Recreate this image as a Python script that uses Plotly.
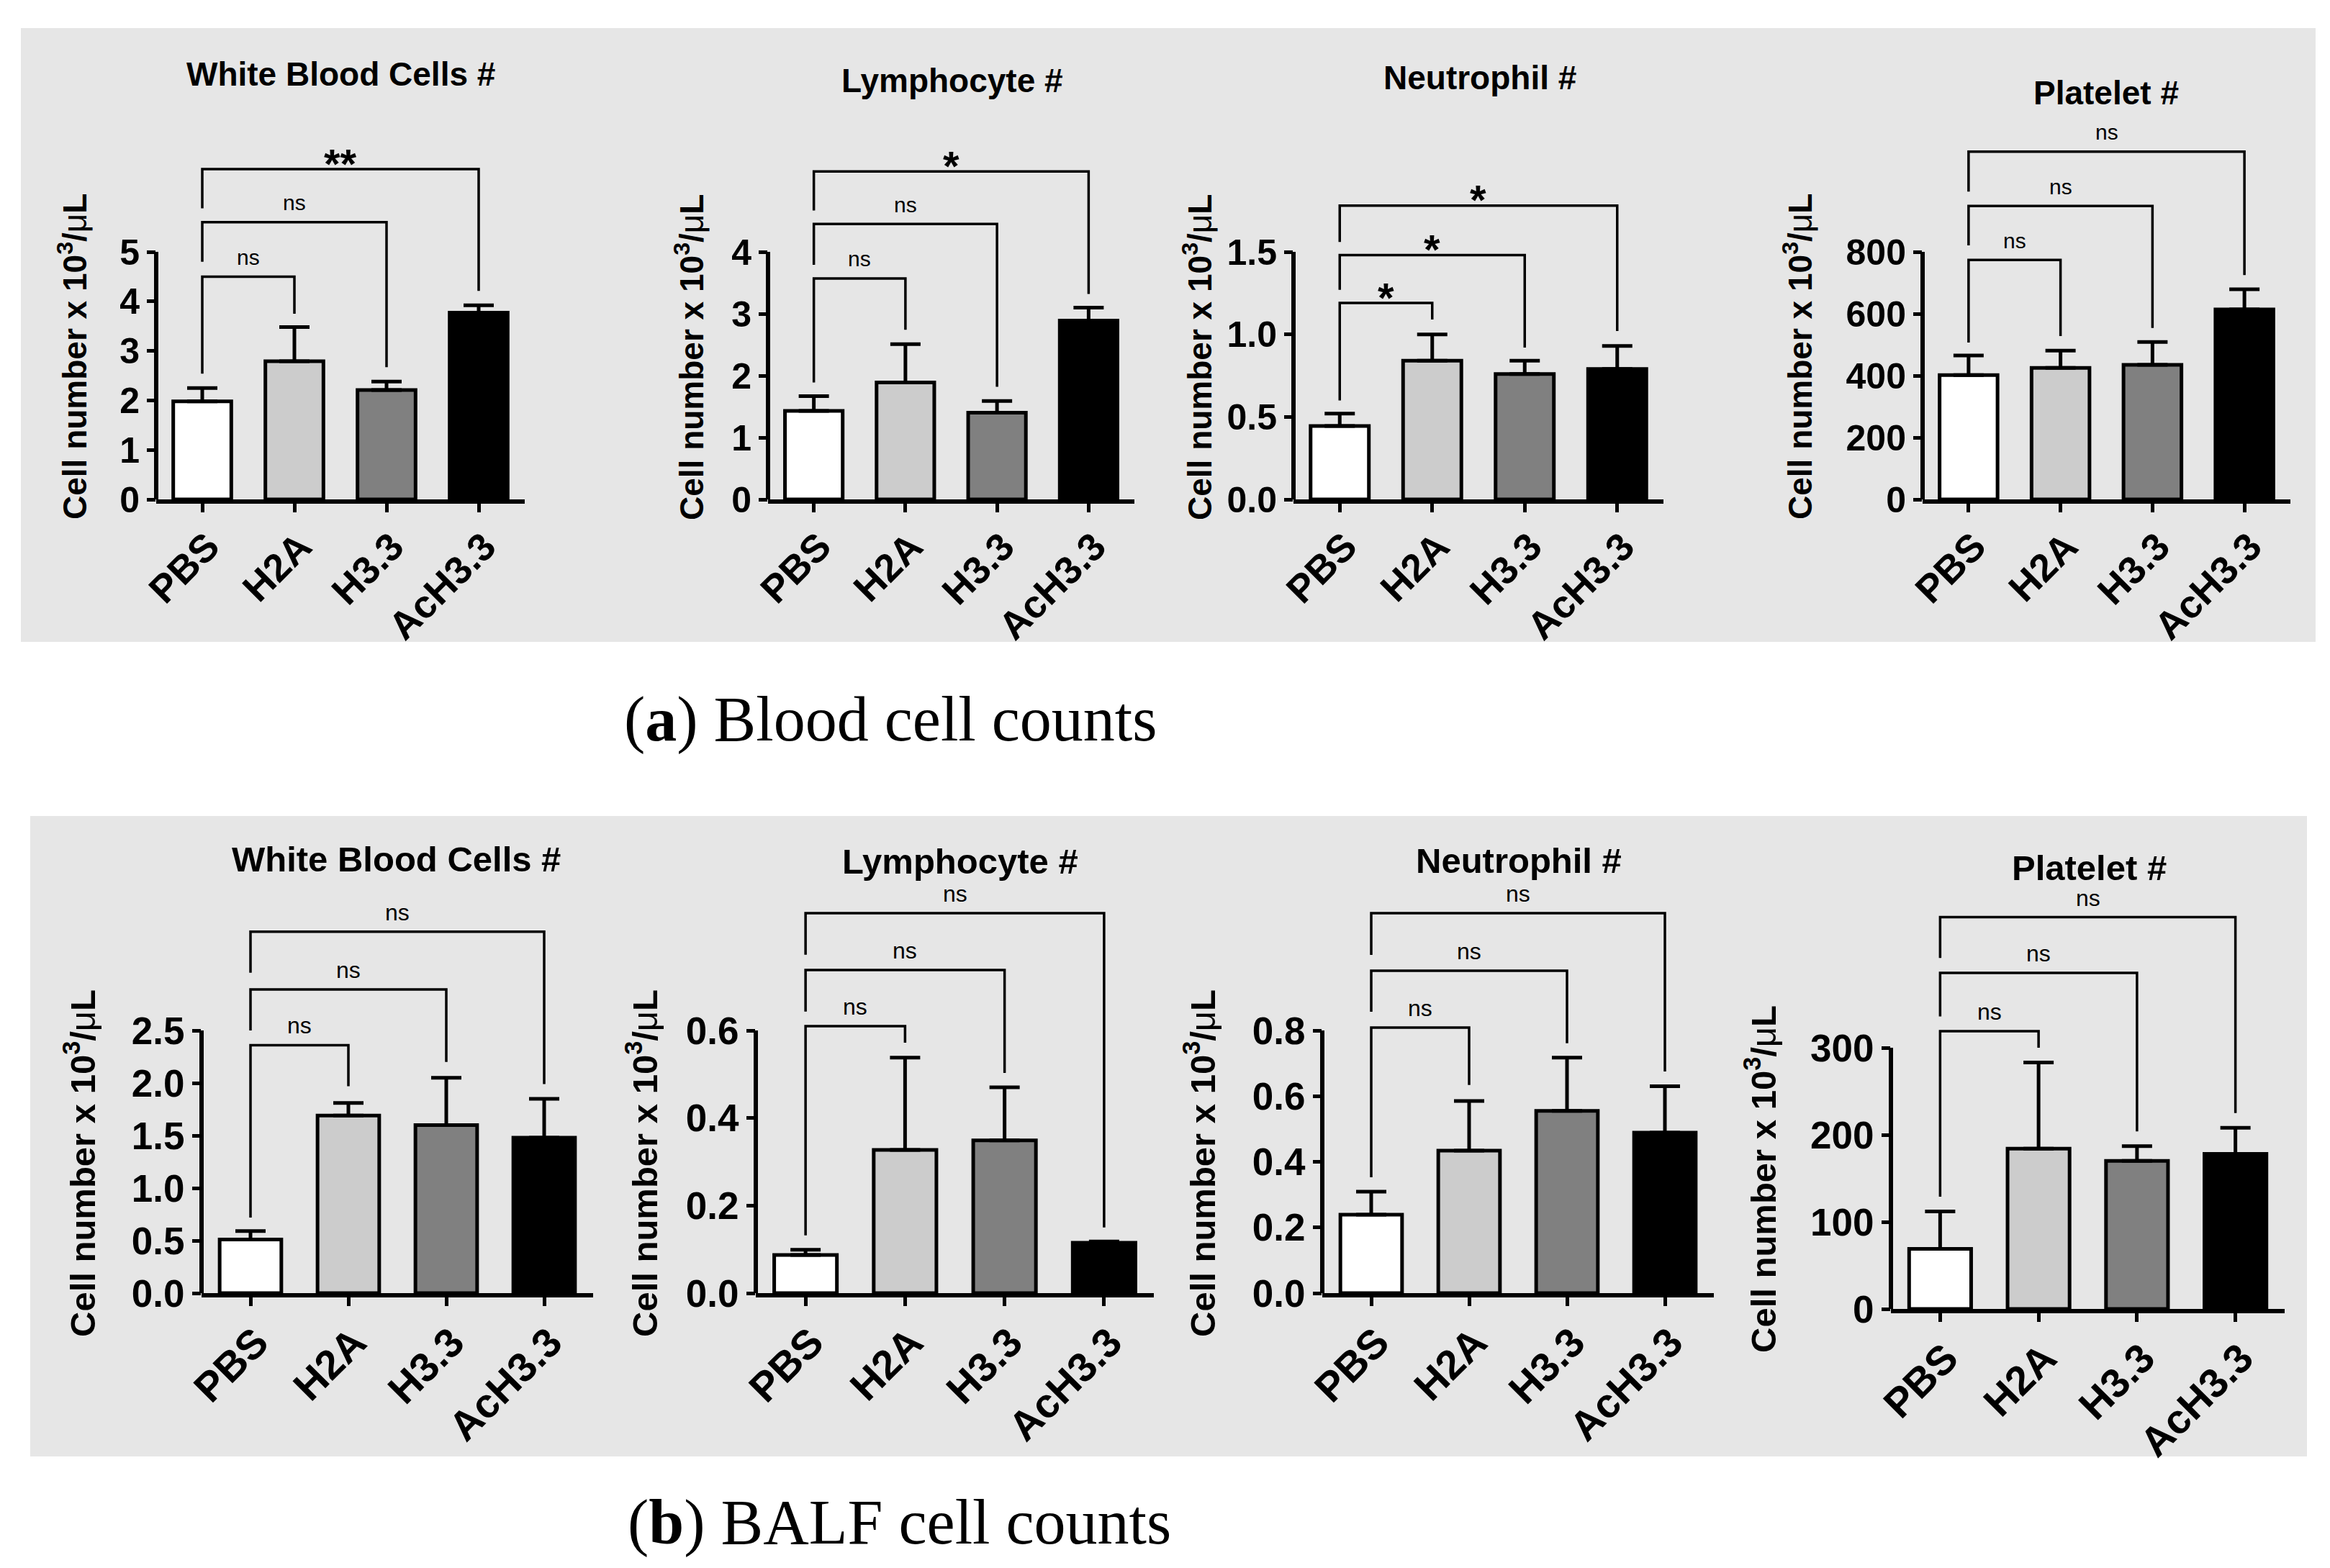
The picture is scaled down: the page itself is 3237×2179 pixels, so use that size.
import plotly.graph_objects as go

W, H = 3237, 2179

# ---------------- data ----------------
groups = ["PBS", "H2A", "H3.3", "AcH3.3"]
bar_colors = ["#ffffff", "#cccccc", "#808080", "#000000"]
titles = ["White Blood Cells #", "Lymphocyte #", "Neutrophil #", "Platelet #"]

# (a) Blood cell counts
blood_wbc_mean = [1.98, 2.79, 2.21, 3.77]
blood_wbc_sem = [0.27, 0.69, 0.17, 0.15]
blood_lym_mean = [1.43, 1.89, 1.40, 2.89]
blood_lym_sem = [0.24, 0.62, 0.19, 0.21]
blood_neu_mean = [0.445, 0.84, 0.76, 0.79]
blood_neu_sem = [0.075, 0.16, 0.08, 0.14]
blood_plt_mean = [402, 425, 435, 614]
blood_plt_sem = [63, 56, 74, 65]

# (b) BALF cell counts
balf_wbc_mean = [0.51, 1.69, 1.60, 1.48]
balf_wbc_sem = [0.08, 0.12, 0.45, 0.37]
balf_lym_mean = [0.087, 0.327, 0.349, 0.115]
balf_lym_sem = [0.012, 0.211, 0.121, 0.003]
balf_neu_mean = [0.239, 0.434, 0.555, 0.489]
balf_neu_sem = [0.070, 0.151, 0.162, 0.141]
balf_plt_mean = [69, 184, 170, 178]
balf_plt_sem = [43, 99, 17, 30]

# significance brackets: PBS vs H2A, H3.3, AcH3.3
blood_wbc_br = dict(top=[4.5, 5.6, 6.67], left=[2.54, 4.8, 5.88], right=[3.75, 2.67, 4.21], sig=["ns", "ns", "**"])
blood_lym_br = dict(top=[3.57, 4.45, 5.3], left=[1.89, 3.79, 4.67], right=[2.74, 1.82, 3.32], sig=["ns", "ns", "*"])
blood_neu_br = dict(top=[1.19, 1.48, 1.78], left=[0.60, 1.27, 1.56], right=[1.09, 0.92, 1.02], sig=["*", "*", "*"])
blood_plt_br = dict(top=[774, 948, 1124], left=[507, 821, 995], right=[528, 554, 725], sig=["ns", "ns", "ns"])
balf_wbc_br = dict(top=[2.36, 2.89, 3.44], left=[0.72, 2.5, 3.05], right=[1.97, 2.2, 1.99], sig=["ns", "ns", "ns"])
balf_lym_br = dict(top=[0.61, 0.738, 0.868], left=[0.132, 0.643, 0.773], right=[0.572, 0.503, 0.15], sig=["ns", "ns", "ns"])
balf_neu_br = dict(top=[0.809, 0.982, 1.157], left=[0.353, 0.857, 1.03], right=[0.634, 0.761, 0.675], sig=["ns", "ns", "ns"])
balf_plt_br = dict(top=[319, 386, 450], left=[129, 336, 403], right=[300, 204, 225], sig=["ns", "ns", "ns"])

# y tick values / labels
ticks_blood_wbc = [0, 1, 2, 3, 4, 5]
ticks_blood_lym = [0, 1, 2, 3, 4]
ticks_blood_neu = [0.0, 0.5, 1.0, 1.5]
ticks_blood_plt = [0, 200, 400, 600, 800]
ticks_balf_wbc = [0.0, 0.5, 1.0, 1.5, 2.0, 2.5]
ticks_balf_lym = [0.0, 0.2, 0.4, 0.6]
ticks_balf_neu = [0.0, 0.2, 0.4, 0.6, 0.8]
ticks_balf_plt = [0, 100, 200, 300]
tick_fmt = ["{:.0f}", "{:.0f}", "{:.1f}", "{:.0f}", "{:.1f}", "{:.1f}", "{:.1f}", "{:.0f}"]

ytitle = "Cell number x 10<sup>3</sup>/<span style='font-weight:normal'>\u03bc</span>L"
captions = ["(<b>a</b>) Blood cell counts", "(<b>b</b>) BALF cell counts"]

data_sets = [
    (blood_wbc_mean, blood_wbc_sem, blood_wbc_br, ticks_blood_wbc, titles[0]),
    (blood_lym_mean, blood_lym_sem, blood_lym_br, ticks_blood_lym, titles[1]),
    (blood_neu_mean, blood_neu_sem, blood_neu_br, ticks_blood_neu, titles[2]),
    (blood_plt_mean, blood_plt_sem, blood_plt_br, ticks_blood_plt, titles[3]),
    (balf_wbc_mean, balf_wbc_sem, balf_wbc_br, ticks_balf_wbc, titles[0]),
    (balf_lym_mean, balf_lym_sem, balf_lym_br, ticks_balf_lym, titles[1]),
    (balf_neu_mean, balf_neu_sem, balf_neu_br, ticks_balf_neu, titles[2]),
    (balf_plt_mean, balf_plt_sem, balf_plt_br, ticks_balf_plt, titles[3]),
]

# ---------------- layout geometry (pixels) ----------------
geom = [
    dict(xl=209, xr=721, y0=686, yt=342, rmax=7.45, tt=(465, 95), yt_xy=(93, 488), fs=46, xfs=54),
    dict(xl=1059, xr=1568, y0=686, yt=342, rmax=5.9, tt=(1315, 104), yt_xy=(950, 488), fs=46, xfs=54),
    dict(xl=1789, xr=2303, y0=686, yt=342, rmax=2.0, tt=(2048, 100), yt_xy=(1656, 488), fs=46, xfs=54),
    dict(xl=2663, xr=3174, y0=686, yt=342, rmax=1250, tt=(2918, 121), yt_xy=(2490, 488), fs=46, xfs=54),
    dict(xl=272, xr=816, y0=1789, yt=1424, rmax=3.8, tt=(542, 1186), yt_xy=(103, 1609), fs=49, xfs=57),
    dict(xl=1042, xr=1595, y0=1789, yt=1424, rmax=0.96, tt=(1326, 1189), yt_xy=(884, 1609), fs=49, xfs=57),
    dict(xl=1829, xr=2373, y0=1789, yt=1424, rmax=1.28, tt=(2102, 1188), yt_xy=(1659, 1609), fs=49, xfs=57),
    dict(xl=2619, xr=3166, y0=1811, yt=1448, rmax=495, tt=(2894, 1198), yt_xy=(2438, 1631), fs=49, xfs=57),
]

FONT = "Liberation Sans, Arial, sans-serif"
SERIF = "Liberation Serif, Times New Roman, serif"

def px(x):
    return x / W

def py(y):
    return 1 - y / H

fig = go.Figure()
shapes = []
annotations = []

# gray panel backgrounds
shapes.append(dict(type="rect", xref="paper", yref="paper", x0=px(21), x1=px(3209), y0=py(884), y1=py(31),
                   fillcolor="#e6e6e6", line=dict(width=0), layer="below"))
shapes.append(dict(type="rect", xref="paper", yref="paper", x0=px(34), x1=px(3197), y0=py(2016), y1=py(1126),
                   fillcolor="#e6e6e6", line=dict(width=0), layer="below"))

layout_axes = {}
for i, ((mean, sem, br, ticks, title), g) in enumerate(zip(data_sets, geom), start=1):
    xa = "x" if i == 1 else f"x{i}"
    ya = "y" if i == 1 else f"y{i}"
    xkey = "xaxis" if i == 1 else f"xaxis{i}"
    ykey = "yaxis" if i == 1 else f"yaxis{i}"
    tmax = ticks[-1]
    unit = (g["y0"] - g["yt"]) / tmax
    ytop = g["y0"] - g["rmax"] * unit
    fs = g["fs"]

    fig.add_trace(go.Bar(
        x=groups, y=mean, xaxis=xa, yaxis=ya, width=0.63,
        marker=dict(color=bar_colors, line=dict(color="black", width=5)),
        error_y=dict(type="data", symmetric=False, array=sem, arrayminus=[0] * len(sem),
                     color="black", thickness=5, width=21),
        showlegend=False, hoverinfo="skip",
    ))

    bx, by = [], []
    for j in range(3):
        bx += [groups[0], groups[0], groups[j + 1], groups[j + 1], None]
        by += [br["left"][j], br["top"][j], br["top"][j], br["right"][j], None]
    fig.add_trace(go.Scatter(x=bx, y=by, xaxis=xa, yaxis=ya, mode="lines",
                             line=dict(color="black", width=3.5), showlegend=False, hoverinfo="skip"))

    for j in range(3):
        s = br["sig"][j]
        if s == "ns":
            annotations.append(dict(x=(j + 1) / 2, y=br["top"][j], xref=xa, yref=ya, text=s, showarrow=False,
                                    yanchor="middle", yshift=27, font=dict(family=FONT, size=round(fs * 0.66), color="black")))
        else:
            annotations.append(dict(x=(j + 1) / 2, y=br["top"][j], xref=xa, yref=ya, text=s, showarrow=False,
                                    yanchor="middle", yshift=8, font=dict(family=FONT, size=round(fs * 1.25), color="black", weight="bold")))

    # y axis line from 0 to the top tick only
    shapes.append(dict(type="line", xref=f"{xa} domain", yref=ya, x0=0, x1=0, y0=0, y1=tmax,
                       line=dict(color="black", width=6)))

    layout_axes[xkey] = dict(
        domain=[px(g["xl"]), px(g["xr"])], anchor=ya, range=[-0.5, 3.5], type="category",
        showline=True, linecolor="black", linewidth=6, ticks="outside", ticklen=12, tickwidth=5,
        tickcolor="black", tickangle=-45, showgrid=False, zeroline=False, automargin=False,
        ticklabelstandoff=-6, ticklabelshift=8,
        tickfont=dict(family=FONT, size=g["xfs"], color="black", weight="bold"),
    )
    layout_axes[ykey] = dict(
        domain=[py(g["y0"]), py(ytop)], anchor=xa, range=[0, g["rmax"]],
        showline=False, ticks="outside", ticklen=12, tickwidth=5, tickcolor="black",
        tickvals=ticks, ticktext=[tick_fmt[i - 1].format(t) for t in ticks],
        showgrid=False, zeroline=False, automargin=False,
        tickfont=dict(family=FONT, size=fs + 4, color="black", weight="bold"),
    )

    annotations.append(dict(x=px(g["tt"][0]), y=py(g["tt"][1]), xref="paper", yref="paper", text=title,
                            showarrow=False, xanchor="center", yanchor="middle",
                            font=dict(family=FONT, size=fs, color="black", weight="bold")))
    annotations.append(dict(x=px(g["yt_xy"][0]), y=py(g["yt_xy"][1]), xref="paper", yref="paper", text=ytitle,
                            showarrow=False, xanchor="center", yanchor="middle", textangle=-90,
                            font=dict(family=FONT, size=fs, color="black", weight="bold")))

annotations.append(dict(x=px(857), y=py(992), xref="paper", yref="paper", text=captions[0], showarrow=False,
                        xanchor="left", yanchor="middle", font=dict(family=SERIF, size=88, color="black")))
annotations.append(dict(x=px(862), y=py(2107), xref="paper", yref="paper", text=captions[1], showarrow=False,
                        xanchor="left", yanchor="middle", font=dict(family=SERIF, size=88, color="black")))

fig.update_layout(
    width=W, height=H, margin=dict(l=0, r=0, t=0, b=0),
    paper_bgcolor="white", plot_bgcolor="rgba(0,0,0,0)",
    shapes=shapes, annotations=annotations, bargap=0.37,
    **layout_axes,
)

fig.write_html("out.html")
